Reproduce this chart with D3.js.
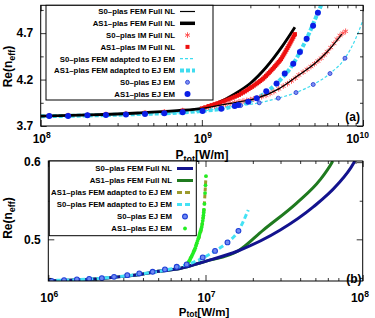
<!DOCTYPE html>
<html>
<head>
<meta charset="utf-8">
<script src="https://cdn.jsdelivr.net/npm/d3@7"></script>
<style>
  body { margin: 0; background: #fff; }
  text { font-family: "Liberation Sans", Arial, sans-serif; font-weight: bold; fill: #000; }
</style>
</head>
<body>
<svg id="chart" width="375" height="318"></svg>
<script>
// ---- panel (a) data : P_tot [W/m] and Re(n_eff) ----
const a_s0FemP = [1e8, 2e8, 4e8, 7e8, 1e9, 1.3e9, 1.7e9, 2.2e9, 3e9, 4e9, 5e9, 6e9, 7.4e9];
const a_s0FemN = [3.807, 3.82, 3.84, 3.865, 3.89, 3.925, 3.96, 4.0, 4.1, 4.25, 4.37, 4.5, 4.69];
const a_as1FemP = [1e8, 2e8, 4e8, 7e8, 1e9, 1.26e9, 1.58e9, 2e9, 2.5e9, 3.16e9, 3.78e9];
const a_as1FemN = [3.807, 3.82, 3.84, 3.865, 3.89, 3.95, 4.04, 4.16, 4.33, 4.56, 4.764];
const a_s0ImP = [1.13e8, 1.48e8, 1.95e8, 2.54e8, 3.38e8, 4.44e8, 5.85e8, 7.6e8, 1.01e9,
  1.1e9, 1.2e9, 1.3e9, 1.4e9, 1.5e9, 1.6e9, 1.7e9, 1.8e9, 1.9e9, 2e9, 2.1e9, 2.2e9, 2.35e9,
  2.5e9, 2.65e9, 2.8e9, 3e9, 3.2e9, 3.4e9, 3.6e9, 3.8e9, 4e9, 4.25e9, 4.5e9, 4.75e9, 5e9,
  5.25e9, 5.5e9, 5.75e9, 6e9, 6.3e9, 6.6e9, 6.9e9, 7.2e9, 7.5e9, 7.8e9];
const a_s0ImN = [3.81, 3.813, 3.818, 3.825, 3.832, 3.842, 3.852, 3.866, 3.885,
  3.905, 3.915, 3.925, 3.935, 3.945, 3.953, 3.96, 3.968, 3.976, 3.984, 3.992, 4.0, 4.015,
  4.03, 4.05, 4.07, 4.1, 4.13, 4.155, 4.185, 4.215, 4.25, 4.28, 4.31, 4.34, 4.37,
  4.4, 4.43, 4.465, 4.5, 4.545, 4.59, 4.635, 4.675, 4.7, 4.72];
const a_as1ImP = [1.13e8, 1.48e8, 1.95e8, 2.54e8, 3.38e8, 4.44e8, 5.85e8, 7.6e8, 1e9,
  1.05e9, 1.1e9, 1.15e9, 1.2e9, 1.25e9, 1.3e9, 1.35e9, 1.4e9, 1.45e9, 1.5e9, 1.55e9, 1.6e9,
  1.65e9, 1.7e9, 1.75e9, 1.8e9, 1.85e9, 1.9e9, 1.95e9, 2e9, 2.05e9, 2.1e9, 2.15e9, 2.2e9,
  2.25e9, 2.3e9, 2.35e9, 2.4e9, 2.45e9, 2.5e9, 2.55e9, 2.6e9, 2.65e9, 2.7e9, 2.75e9, 2.8e9,
  2.85e9, 2.9e9, 2.95e9, 3e9, 3.05e9, 3.1e9, 3.15e9, 3.2e9, 3.25e9, 3.3e9, 3.35e9, 3.4e9,
  3.45e9, 3.5e9, 3.55e9, 3.6e9, 3.65e9, 3.7e9, 3.75e9, 3.78e9];
const a_as1ImN = [3.81, 3.813, 3.818, 3.825, 3.832, 3.842, 3.852, 3.866, 3.89,
  3.902, 3.915, 3.925, 3.935, 3.945, 3.955, 3.965, 3.975, 3.985, 3.995, 4.005, 4.015,
  4.025, 4.035, 4.048, 4.06, 4.072, 4.085, 4.098, 4.11, 4.122, 4.135, 4.148, 4.16,
  4.172, 4.185, 4.198, 4.21, 4.225, 4.24, 4.255, 4.27, 4.285, 4.3, 4.315, 4.33,
  4.345, 4.36, 4.375, 4.39, 4.405, 4.42, 4.44, 4.46, 4.48, 4.5, 4.52, 4.54,
  4.56, 4.58, 4.6, 4.62, 4.64, 4.66, 4.68, 4.69];
const a_s0AdaptP = [1e8, 3e8, 1e9, 1.5e9, 2.27e9, 2.98e9, 3.84e9, 4.91e9, 6.24e9, 7.73e9, 9e9, 1e10];
const a_s0AdaptN = [3.805, 3.822, 3.862, 3.905, 3.95, 4.0, 4.06, 4.147, 4.265, 4.43, 4.64, 4.84];
const a_as1AdaptP = [1e8, 3e8, 1e9, 1.32e9, 1.68e9, 2.19e9, 2.91e9, 3.69e9, 4.47e9, 5.25e9, 5.5e9];
const a_as1AdaptN = [3.805, 3.822, 3.862, 3.885, 3.925, 4.0, 4.157, 4.37, 4.64, 4.92, 5.0];
const a_s0EjP = [1.13e8, 1.48e8, 1.95e8, 2.54e8, 3.38e8, 4.44e8, 5.85e8, 7.6e8, 1.01e9,
  1.33e9, 1.74e9, 2.27e9, 2.98e9, 3.84e9, 4.91e9, 6.24e9, 7.73e9];
const a_s0EjN = [3.807, 3.809, 3.814, 3.819, 3.826, 3.833, 3.841, 3.851, 3.862,
  3.89, 3.92, 3.95, 4.0, 4.06, 4.147, 4.265, 4.43];
const a_as1EjP = [1.13e8, 1.48e8, 1.95e8, 2.54e8, 3.38e8, 4.44e8, 5.85e8, 7.6e8, 1.01e9,
  1.32e9, 1.6e9, 1.68e9, 1.94e9, 2.19e9, 2.51e9, 2.91e9, 3.27e9, 3.69e9, 4.06e9, 4.47e9, 4.9e9, 5.25e9];
const a_as1EjN = [3.807, 3.809, 3.815, 3.818, 3.825, 3.829, 3.836, 3.847, 3.861,
  3.885, 3.915, 3.925, 3.96, 4.0, 4.075, 4.157, 4.265, 4.37, 4.496, 4.64, 4.78, 4.92];

// ---- panel (b) data ----
const b_s0FemP = [1e6, 2e6, 3e6, 4e6, 5e6, 6.87e6, 1e7, 1.62e7, 2.99e7, 4.85e7, 6.84e7, 8.71e7, 8.9e7];
const b_s0FemN = [0.4462, 0.4487, 0.452, 0.455, 0.4585, 0.4623, 0.4715, 0.4852, 0.512, 0.542, 0.57, 0.598, 0.6015];
const b_as1FemP = [1e6, 2e6, 3e6, 4e6, 5e6, 6.87e6, 1e7, 1.62e7, 2.33e7, 3.8e7, 5.35e7, 6.35e7, 6.45e7];
const b_as1FemN = [0.4462, 0.4487, 0.452, 0.455, 0.4585, 0.4623, 0.4715, 0.4852, 0.512, 0.547, 0.577, 0.599, 0.6015];
const b_as1AdaptP = [7.59e6, 8.8e6, 9.46e6, 9.77e6, 9.93e6, 1.007e7];
const b_as1AdaptN = [0.4667, 0.495, 0.516, 0.538, 0.56, 0.582];
const b_s0AdaptP = [1e6, 2e6, 4e6, 6e6, 7.41e6, 9.68e6, 1.15e7, 1.38e7, 1.62e7, 1.87e7];
const b_s0AdaptN = [0.4466, 0.449, 0.4555, 0.4615, 0.4665, 0.476, 0.485, 0.496, 0.511, 0.538];
const b_s0EjP = [1.05e6, 1.26e6, 1.52e6, 1.82e6, 2.19e6, 2.62e6, 3.18e6, 3.79e6, 4.61e6, 5.52e6,
  6.56e6, 7.59e6, 9.6e6, 1.15e7, 1.38e7, 1.62e7];
const b_s0EjN = [0.4462, 0.4471, 0.448, 0.4488, 0.4497, 0.4514, 0.4536, 0.4558, 0.4579, 0.461,
  0.4644, 0.4675, 0.4766, 0.485, 0.496, 0.511];
const b_as1EjP = [7.59e6, 7.7e6, 7.8e6, 7.9e6, 8.0e6, 8.1e6, 8.2e6, 8.3e6, 8.4e6, 8.5e6, 8.6e6,
  8.7e6, 8.8e6, 8.9e6, 9.0e6, 9.08e6, 9.15e6, 9.22e6, 9.3e6, 9.38e6, 9.46e6, 9.53e6,
  9.6e6, 9.65e6, 9.7e6, 9.74e6, 9.77e6, 9.85e6, 9.93e6, 1.0e7, 1.007e7];
const b_as1EjN = [0.4667, 0.4686, 0.4705, 0.4725, 0.4745, 0.4767, 0.479, 0.4812, 0.4835, 0.486, 0.4885,
  0.4917, 0.495, 0.498, 0.501, 0.5035, 0.506, 0.5085, 0.511, 0.5135, 0.516, 0.52,
  0.524, 0.5275, 0.531, 0.5345, 0.538, 0.546, 0.56, 0.57, 0.582];

// ---- ticks and legend labels ----
const a_xMajor = [1e8, 1e9, 1e10];
const a_xLabels = [["10", "8"], ["10", "9"], ["10", "10"]];
const a_yMajor = [3.7, 4.2, 4.7];
const a_yMinor = [3.95, 4.45, 4.95];
const b_xMajor = [1e6, 1e7, 1e8];
const b_xLabels = [["10", "6"], ["10", "7"], ["10", "8"]];
const b_yMajor = [0.5, 0.6];
const b_yMinor = [0.45, 0.55];
const legendA = ["S0–plas FEM Full NL", "AS1–plas FEM Full NL", "S0–plas IM Full NL", "AS1–plas IM Full NL",
  "S0–plas FEM adapted to EJ EM", "AS1–plas FEM adapted to EJ EM", "S0–plas EJ EM", "AS1–plas EJ EM"];
const legendB = ["S0–plas FEM Full NL", "AS1–plas FEM Full NL", "AS1–plas FEM adapted to EJ EM",
  "S0–plas FEM adapted to EJ EM", "S0–plas EJ EM", "AS1–plas EJ EM"];

const zip = (P, N) => P.map((p, i) => [p, N[i]]);
const svg = d3.select("#chart");
const defs = svg.append("defs");

function minorTicks(lo, hi) {
  const out = [];
  for (let e = Math.log10(lo); e < Math.log10(hi); e++)
    for (let k = 2; k <= 9; k++) out.push(k * Math.pow(10, e));
  return out;
}

function frame(g, x, y, xMajor, xLabels, yMajor, yMinor, id, labelY) {
  const [x0, x1] = x.range(), [y0, y1] = y.range();
  const xMinor = minorTicks(x.domain()[0], x.domain()[1]);
  const tick = (ax, vals, len) => ax.tickValues(vals).tickSize(-len).tickSizeOuter(0).tickFormat("");
  [[d3.axisBottom, y0], [d3.axisTop, y1]].forEach(([A, pos]) => {
    g.append("g").attr("transform", `translate(0,${pos})`).call(tick(A(x), xMajor, 6));
    g.append("g").attr("transform", `translate(0,${pos})`).call(tick(A(x), xMinor, 3));
  });
  [[d3.axisLeft, x0], [d3.axisRight, x1]].forEach(([A, pos]) => {
    g.append("g").attr("transform", `translate(${pos},0)`).call(tick(A(y), yMajor, 6));
    g.append("g").attr("transform", `translate(${pos},0)`).call(tick(A(y), yMinor, 3));
  });
  g.selectAll(".domain").remove();
  g.selectAll(".tick line").attr("stroke", "#000").attr("stroke-width", 0.8);
  g.append("rect").attr("x", x0).attr("y", y1).attr("width", x1 - x0).attr("height", y0 - y1)
    .attr("fill", "none").attr("stroke", "#000").attr("stroke-width", 1);

  defs.append("clipPath").attr("id", id).append("rect")
    .attr("x", x0).attr("y", y1).attr("width", x1 - x0).attr("height", y0 - y1);

  xMajor.forEach((v, i) => {
    const t = g.append("text").attr("y", labelY).attr("text-anchor", "middle").style("font-size", "12px");
    t.append("tspan").text(xLabels[i][0]);
    t.append("tspan").attr("dy", -5).style("font-size", "8.5px").text(xLabels[i][1]);
    const w = t.node().getComputedTextLength();
    t.attr("x", Math.min(x(v) + 1, 369 - w / 2));
  });
  yMajor.forEach(v => {
    g.append("text").attr("x", x0 - 7.5).attr("y", y(v) + 4.3).attr("text-anchor", "end")
      .style("font-size", "12px").text(v.toFixed(1));
  });
}

function axisTitles(g, cx, by, ly, subDy, fs) {
  const t = g.append("text").attr("x", cx).attr("y", by).attr("text-anchor", "middle").style("font-size", fs + "px");
  t.append("tspan").text("P");
  t.append("tspan").attr("dy", subDy).style("font-size", (fs - 3) + "px").text("tot");
  t.append("tspan").attr("dy", -subDy).text("[W/m]");
  const r = g.append("text").attr("transform", `translate(12,${ly}) rotate(-90)`)
    .attr("text-anchor", "middle").style("font-size", "12px");
  r.append("tspan").text("Re(n");
  r.append("tspan").attr("dy", 3).style("font-size", "9px").text("eff");
  r.append("tspan").attr("dy", -3).text(")");
}

function drawLine(g, x, y, data, color, width, dash) {
  g.append("path").datum(data)
    .attr("fill", "none").attr("stroke", color).attr("stroke-width", width)
    .attr("stroke-dasharray", dash || null)
    .attr("d", d3.line().x(d => x(d[0])).y(d => y(d[1])).curve(d3.curveMonotoneX));
}

const marker = {
  star: (s, cx, cy) => s.append("path").attr("transform", `translate(${cx},${cy})`)
    .attr("d", d3.symbol(d3.symbolAsterisk, 22)()).attr("fill", "none").attr("stroke", "#ff4a4a").attr("stroke-width", 0.9),
  square: (s, cx, cy) => s.append("rect").attr("x", cx - 2).attr("y", cy - 2).attr("width", 4).attr("height", 4)
    .attr("fill", "#ee1010"),
  ringSmall: (s, cx, cy) => s.append("circle").attr("cx", cx).attr("cy", cy).attr("r", 2)
    .attr("fill", "#7d8ff2").attr("stroke", "#2035d0").attr("stroke-width", 0.8),
  dotBig: (s, cx, cy) => s.append("circle").attr("cx", cx).attr("cy", cy).attr("r", 3)
    .attr("fill", "#0a1ee6"),
  ringB: (s, cx, cy) => s.append("circle").attr("cx", cx).attr("cy", cy).attr("r", 2.4)
    .attr("fill", "#6f88f2").attr("stroke", "#1f3fd8").attr("stroke-width", 1.1),
  greenDot: (s, cx, cy) => s.append("circle").attr("cx", cx).attr("cy", cy).attr("r", 1.9)
    .attr("fill", "#22ee22")
};

function drawMarks(g, x, y, data, kind) {
  data.forEach(d => marker[kind](g, x(d[0]), y(d[1])));
}

// ================= panel (a) =================
const xA = d3.scaleLog().domain([1e8, 1e10]).range([40.7, 363]);
const yA = d3.scaleLinear().domain([3.7, 5.0]).range([126, 5.3]);
const gA = svg.append("g");
const plotA = gA.append("g").attr("clip-path", "url(#clipA)");

drawLine(plotA, xA, yA, zip(a_s0AdaptP, a_s0AdaptN), "#3fdcef", 1.2, "3,2");
drawLine(plotA, xA, yA, zip(a_as1AdaptP, a_as1AdaptN), "#3fdcef", 4, "4,2");
drawMarks(plotA, xA, yA, zip(a_s0ImP, a_s0ImN), "star");
drawLine(plotA, xA, yA, zip(a_as1FemP, a_as1FemN), "#000", 2.8);
drawMarks(plotA, xA, yA, zip(a_as1ImP, a_as1ImN), "square");
drawLine(plotA, xA, yA, zip(a_s0FemP, a_s0FemN), "#000", 1.2);
drawMarks(plotA, xA, yA, zip(a_s0EjP, a_s0EjN), "ringSmall");
drawMarks(plotA, xA, yA, zip(a_as1EjP, a_as1EjN), "dotBig");

frame(gA, xA, yA, a_xMajor, a_xLabels, a_yMajor, a_yMinor, "clipA", 143);
axisTitles(gA, 202, 158.5, 66.5, 3, 12);
gA.append("text").attr("x", 360).attr("y", 121).attr("text-anchor", "end").style("font-size", "12px").text("(a)");

// legend (a)
const legA = gA.append("g");
legA.append("rect").attr("x", 46).attr("y", 5.3).attr("width", 167).attr("height", 94.7)
  .attr("fill", "#fff").attr("stroke", "#000").attr("stroke-width", 1);
legendA.forEach((lab, i) => {
  const cy = 11.5 + i * 11.8;
  legA.append("text").attr("x", 175).attr("y", cy + 2.8).attr("text-anchor", "end")
    .style("font-size", "7.8px").text(lab);
  const ln = (c, w, dash) => legA.append("line").attr("x1", 180).attr("x2", 195).attr("y1", cy).attr("y2", cy)
    .attr("stroke", c).attr("stroke-width", w).attr("stroke-dasharray", dash || null);
  if (i === 0) ln("#000", 1.2);
  if (i === 1) ln("#000", 3.5);
  if (i === 2) marker.star(legA, 187.5, cy);
  if (i === 3) marker.square(legA, 187.5, cy);
  if (i === 4) ln("#3fdcef", 1.2, "3,2");
  if (i === 5) ln("#3fdcef", 4, "4,2");
  if (i === 6) marker.ringSmall(legA, 187.5, cy);
  if (i === 7) marker.dotBig(legA, 187.5, cy);
});

// ================= panel (b) =================
const xB = d3.scaleLog().domain([1e6, 1e8]).range([48.3, 362.7]);
const yB = d3.scaleLinear().domain([0.446, 0.6015]).range([281, 161]);
const gB = svg.append("g");
const plotB = gB.append("g").attr("clip-path", "url(#clipB)");

drawLine(plotB, xB, yB, zip(b_as1FemP, b_as1FemN), "#1f7a1f", 3);
drawLine(plotB, xB, yB, zip(b_s0FemP, b_s0FemN), "#13138e", 3);
drawLine(plotB, xB, yB, zip(b_s0AdaptP, b_s0AdaptN), "#44e2f4", 3, "5,3");
drawLine(plotB, xB, yB, zip(b_as1AdaptP, b_as1AdaptN), "#9c9a2c", 3, "4,3");
drawMarks(plotB, xB, yB, zip(b_as1EjP, b_as1EjN), "greenDot");
drawMarks(plotB, xB, yB, zip(b_s0EjP, b_s0EjN), "ringB");

frame(gB, xB, yB, b_xMajor, b_xLabels, b_yMajor, b_yMinor, "clipB", 302);
axisTitles(gB, 204, 316.3, 218, 0.5, 11.5);
gB.append("text").attr("x", 361.5).attr("y", 283).attr("text-anchor", "end").style("font-size", "12px").text("(b)");

// legend (b)
const legB = gB.append("g");
legB.append("rect").attr("x", 49.3).attr("y", 161).attr("width", 147).attr("height", 74.7)
  .attr("fill", "#fff").attr("stroke", "#000").attr("stroke-width", 1);
legendB.forEach((lab, i) => {
  const cy = 168.5 + i * 12;
  legB.append("text").attr("x", 172).attr("y", cy + 2.8).attr("text-anchor", "end")
    .style("font-size", "7.8px").text(lab);
  const ln = (c, w, dash) => legB.append("line").attr("x1", 177).attr("x2", 193).attr("y1", cy).attr("y2", cy)
    .attr("stroke", c).attr("stroke-width", w).attr("stroke-dasharray", dash || null);
  if (i === 0) ln("#13138e", 3);
  if (i === 1) ln("#1f7a1f", 3);
  if (i === 2) ln("#9c9a2c", 3, "5,3");
  if (i === 3) ln("#44e2f4", 3, "5,3");
  if (i === 4) marker.ringB(legB, 185, cy);
  if (i === 5) marker.greenDot(legB, 185, cy);
});
</script>
</body>
</html>
